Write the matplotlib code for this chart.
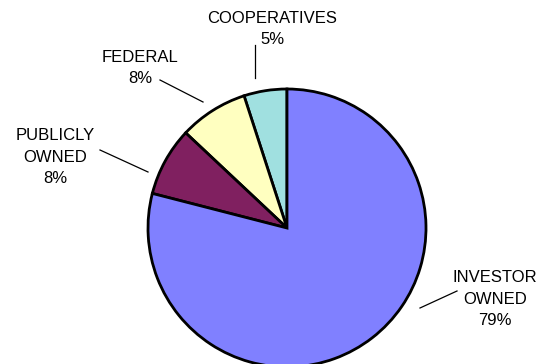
import matplotlib.pyplot as plt

plt.rcParams['font.family'] = ['Liberation Sans', 'DejaVu Sans']

# ownership shares, counter-clockwise from 12 o'clock
labels = ['COOPERATIVES', 'FEDERAL', 'PUBLICLY\nOWNED', 'INVESTOR\nOWNED']
shares = [5, 8, 8, 79]
colors = ['#a0e0e0', '#ffffc0', '#802060', '#8080ff']

# text positions and leader lines (pixel space, y up)
label_pos = [(272, 335), (140, 296), (55, 207), (495, 65)]
leaders = [((255, 255), (319, 286)),
           ((160, 203), (284, 262)),
           ((100, 148), (214, 192)),
           ((420, 457), (56, 73))]

fig = plt.figure(figsize=(5.42, 3.64), dpi=100)
ax = fig.add_axes([0, 0, 1, 1])

ax.pie(shares, colors=colors, startangle=90, counterclock=True,
       center=(287, 136), radius=139, frame=True,
       wedgeprops=dict(edgecolor='black', linewidth=2))
ax.set_xlim(0, 542)
ax.set_ylim(0, 364)
ax.set_aspect('equal')
ax.axis('off')

for lab, val, (x, y) in zip(labels, shares, label_pos):
    ax.text(x, y, f'{lab}\n{val}%', ha='center', va='center',
            fontsize=12, linespacing=1.55, color='black')

for xs, ys in leaders:
    ax.plot(xs, ys, color='black', linewidth=0.9)

plt.savefig('out.png', dpi=100)
